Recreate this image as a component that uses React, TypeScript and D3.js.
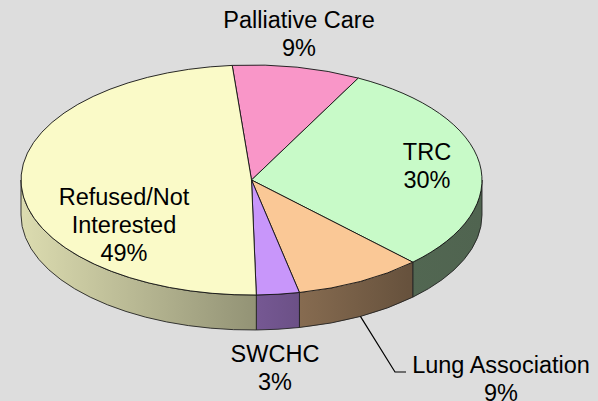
import React, { useEffect, useRef } from 'react';
import * as d3 from 'd3';

// data
const categories = ['Palliative Care', 'TRC', 'Lung Association', 'SWCHC', 'Refused/Not Interested'];
const values = [9, 30, 9, 3, 49];
const nameLines = [['Palliative Care'], ['TRC'], ['Lung Association'], ['SWCHC'], ['Refused/Not', 'Interested']];
const colors = ['#F996C8', '#C8FAC8', '#FAC896', '#C896FA', '#FAFAC8'];

// label placement (center x, first baseline)
const labelPos = [
  { x: 299, y: 28 },
  { x: 427, y: 160 },
  { x: 501, y: 373 },
  { x: 275, y: 362 },
  { x: 124, y: 205 },
];

const W = 598;
const H = 401;

const App: React.FC = () => {
  const svgRef = useRef<SVGSVGElement>(null);

  useEffect(() => {
    if (!svgRef.current) return;
    const svg = d3.select(svgRef.current);
    svg.selectAll('*').remove();

    const cx = 251.5, cy = 180, rx = 230.5, ry = 115, depth = 35;
    const start = (-4.8 * Math.PI) / 180;

    const pie = d3.pie<number>().sort(null).startAngle(start).endAngle(start + 2 * Math.PI);
    const arcs = pie(values);

    const px = (a: number) => cx + rx * Math.sin(a);
    const py = (a: number, dz = 0) => cy - ry * Math.cos(a) + dz;

    svg.append('rect').attr('width', W).attr('height', H).attr('fill', '#DDDDDD');

    // side gradients, darker to the right
    const defs = svg.append('defs');
    colors.forEach((c, i) => {
      const base = d3.rgb(c);
      const shade = (k: number) => d3.rgb(base.r * k, base.g * k, base.b * k).formatHex();
      const g = defs.append('linearGradient')
        .attr('id', `side${i}`)
        .attr('gradientUnits', 'userSpaceOnUse')
        .attr('x1', cx - rx).attr('x2', cx + rx).attr('y1', 0).attr('y2', 0);
      [[0, 0.88], [0.45, 0.62], [0.84, 0.41], [1, 0.4]].forEach(([o, k]) => {
        g.append('stop').attr('offset', o).attr('stop-color', shade(k));
      });
    });

    // visible side faces (front half)
    const lo = Math.PI / 2, hi = (3 * Math.PI) / 2;
    arcs.forEach((a, i) => {
      // normalise to [0, 2pi)
      let s = a.startAngle, e = a.endAngle;
      if (s < 0) { s += 2 * Math.PI; e += 2 * Math.PI; }
      const segs: [number, number][] = [];
      for (const off of [0, -2 * Math.PI]) {
        const s1 = Math.max(s + off, lo), e1 = Math.min(e + off, hi);
        if (e1 > s1) segs.push([s1, e1]);
      }
      segs.forEach(([s1, e1]) => {
        const d = `M${px(s1)},${py(s1)} A${rx},${ry} 0 0 1 ${px(e1)},${py(e1)}` +
          ` L${px(e1)},${py(e1, depth)} A${rx},${ry} 0 0 0 ${px(s1)},${py(s1, depth)} Z`;
        svg.append('path').attr('d', d)
          .attr('fill', `url(#side${i})`)
          .attr('stroke', '#222').attr('stroke-width', 0.9).attr('stroke-linejoin', 'round');
      });
    });

    // top faces
    arcs.forEach((a, i) => {
      const s = a.startAngle, e = a.endAngle;
      const large = e - s > Math.PI ? 1 : 0;
      const d = `M${cx},${cy} L${px(s)},${py(s)} A${rx},${ry} 0 ${large} 1 ${px(e)},${py(e)} Z`;
      svg.append('path').attr('d', d)
        .attr('fill', colors[i])
        .attr('stroke', '#111').attr('stroke-width', 0.9).attr('stroke-linejoin', 'round');
    });

    // leader line for Lung Association
    const li = categories.indexOf('Lung Association');
    const mid = (arcs[li].startAngle + arcs[li].endAngle) / 2;
    const lp = labelPos[li];
    const x0 = px(mid), y0 = py(mid, depth);
    svg.append('path')
      .attr('d', `M${x0},${y0} L${lp.x - 106},${lp.y - 1} L${lp.x - 95},${lp.y - 1}`)
      .attr('fill', 'none').attr('stroke', '#000').attr('stroke-width', 1.2);

    // labels
    arcs.forEach((a, i) => {
      const lines = [...nameLines[i], `${values[i]}%`];
      const t = svg.append('text')
        .attr('text-anchor', 'middle')
        .attr('font-family', '"Liberation Sans", Arial, sans-serif')
        .attr('font-size', 23.5)
        .attr('fill', '#000');
      lines.forEach((ln, j) => {
        t.append('tspan').attr('x', labelPos[i].x).attr('y', labelPos[i].y + j * 28).text(ln);
      });
    });
  }, []);

  return (
    <div style={{ position: 'absolute', left: 0, top: 0 }}>
      <svg ref={svgRef} width={W} height={H} style={{ display: 'block' }} />
    </div>
  );
};

export default App;
